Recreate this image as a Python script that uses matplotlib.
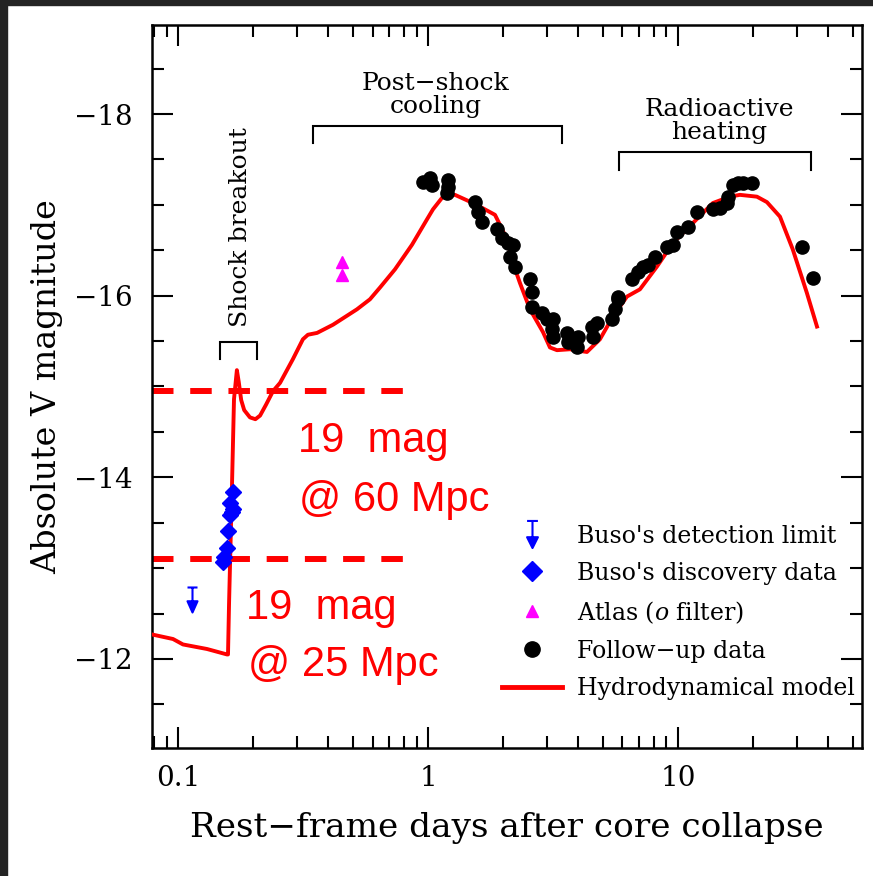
import matplotlib
matplotlib.use("Agg")
import matplotlib.pyplot as plt
from matplotlib.path import Path
from matplotlib.lines import Line2D
from matplotlib.patches import Rectangle
from matplotlib.ticker import FixedLocator, FixedFormatter, MultipleLocator, NullFormatter

plt.rcParams['font.family'] = ['DejaVu Serif']
plt.rcParams['mathtext.fontset'] = 'dejavuserif'

# --- data (days after collapse, absolute V mag) ---
model_t = [0.0787, 0.0955, 0.1047, 0.1306, 0.157, 0.1585, 0.160, 0.1644, 0.1675,
           0.172, 0.175, 0.179, 0.184, 0.194, 0.204, 0.213, 0.225, 0.240, 0.256,
           0.288, 0.316, 0.331, 0.36, 0.417, 0.52, 0.586, 0.643, 0.738, 0.863,
           0.991, 1.047, 1.148, 1.282, 1.432, 1.614, 1.854, 1.941, 2.07, 2.188,
           2.333, 2.559, 2.884, 3.076, 3.281, 3.698, 4.325, 4.875, 5.495, 6.252,
           7.047, 8.241, 9.55, 11.48, 13.8, 16.14, 17.7, 20.7, 22.7, 25.6, 28.8,
           32.8, 36.0]
model_mag = [-12.27, -12.22, -12.16, -12.11, -12.05, -12.05, -12.6, -13.9, -14.86,
             -15.18, -15.05, -14.85, -14.74, -14.66, -14.64, -14.68, -14.80, -14.95,
             -15.04, -15.30, -15.52, -15.57, -15.59, -15.68, -15.85, -15.96, -16.09,
             -16.29, -16.56, -16.84, -16.95, -17.09, -17.11, -17.05, -16.98, -16.89,
             -16.78, -16.62, -16.36, -16.14, -15.85, -15.60, -15.43, -15.40, -15.41,
             -15.38, -15.52, -15.77, -15.99, -16.07, -16.32, -16.58, -16.80, -17.02,
             -17.09, -17.11, -17.09, -17.03, -16.87, -16.51, -16.03, -15.66]

follow_t = [0.955, 1.019, 1.038, 1.202, 1.202, 1.191, 1.542, 1.585, 1.644, 1.888,
            1.977, 2.089, 2.188, 2.128, 2.228, 2.559, 2.606, 2.606, 2.858, 2.992,
            3.162, 3.133, 3.162, 3.597, 3.631, 3.981, 3.945, 4.529, 4.571, 4.742,
            5.445, 5.598, 5.754, 5.754, 6.546, 6.918, 7.244, 7.586, 8.091, 9.036,
            9.55, 9.908, 10.96, 11.91, 13.80, 14.72, 15.70, 15.85, 16.60, 17.38,
            18.20, 19.77, 31.33, 34.67]
follow_mag = [-17.25, -17.30, -17.22, -17.27, -17.20, -17.13, -17.03, -16.92, -16.81,
              -16.73, -16.64, -16.58, -16.56, -16.43, -16.32, -16.18, -16.04, -15.88,
              -15.81, -15.74, -15.74, -15.63, -15.54, -15.59, -15.49, -15.54, -15.44,
              -15.66, -15.55, -15.70, -15.74, -15.85, -15.96, -15.99, -16.18, -16.26,
              -16.32, -16.34, -16.43, -16.54, -16.56, -16.70, -16.76, -16.92, -16.95,
              -16.97, -17.02, -17.09, -17.22, -17.24, -17.24, -17.24, -16.54, -16.20]

buso_t = [0.166, 0.162, 0.1655, 0.162, 0.164, 0.158, 0.157, 0.153, 0.152]
buso_mag = [-13.84, -13.72, -13.65, -13.58, -13.62, -13.41, -13.22, -13.12, -13.07]

atlas_t = [0.453, 0.452]
atlas_mag = [-16.37, -16.23]

limit_t = [0.1137]
limit_mag = [-12.79]

limit_60 = -14.95   # 19 mag @ 60 Mpc
limit_25 = -13.10   # 19 mag @ 25 Mpc
dash_end = 0.84

brackets = {
    'shock': (0.147, 0.207, -15.49, -15.30),
    'cooling': (0.347, 3.436, -17.87, -17.68),
    'heating': (5.81, 34.0, -17.58, -17.38),
}

RED = '#ff0000'
BLUE = '#0000ff'
MAGENTA = '#ff00ff'

# upper-limit glyph: bar at the data value, arrow pointing to fainter mags
lim_path = Path([(-0.2, 0), (0.2, 0), (0, 0), (0, -0.55),
                 (-0.2, -0.55), (0.2, -0.55), (0, -1), (-0.2, -0.55)],
                [Path.MOVETO, Path.LINETO, Path.MOVETO, Path.LINETO,
                 Path.MOVETO, Path.LINETO, Path.LINETO, Path.CLOSEPOLY])
lim_path_leg = Path([(-0.4, 1), (0.4, 1), (0, 1), (0, -0.2),
                     (-0.4, -0.2), (0.4, -0.2), (0, -1), (-0.4, -0.2)],
                    lim_path.codes)

fig = plt.figure(figsize=(8.73, 8.76), dpi=100)
ax = fig.add_axes([152 / 873, 1 - 748 / 876, 710 / 873, 723 / 876])

ax.set_xscale('log')
ax.set_xlim(0.0787, 54.5)
ax.set_ylim(-11.02, -18.98)

# reference lines for 19 mag at two distances
ax.plot([0.0787, dash_end], [limit_60, limit_60], color=RED, lw=4.3,
        dashes=(3.6, 2.8), dash_capstyle='butt', zorder=2)
ax.plot([0.0787, dash_end], [limit_25, limit_25], color=RED, lw=4.3,
        dashes=(3.6, 2.8), dash_capstyle='butt', zorder=2)

ax.plot(model_t, model_mag, color=RED, lw=2.8, zorder=3)
ax.plot(follow_t, follow_mag, 'o', color='black', ms=9.5, zorder=4)
ax.plot(buso_t, buso_mag, 'D', color=BLUE, ms=8.5, zorder=5)
ax.plot(atlas_t, atlas_mag, '^', color=MAGENTA, ms=8, zorder=5)
ax.plot(limit_t, limit_mag, ls='none', marker=lim_path, ms=36, color=BLUE,
        mfc=BLUE, mec=BLUE, mew=1.5, zorder=5)

# phase brackets
for x0, x1, ytop, yleg in brackets.values():
    ax.plot([x0, x0, x1, x1], [yleg, ytop, ytop, yleg], color='black', lw=1.5,
            solid_joinstyle='miter', zorder=3)

ax.text(0.1786, -16.75, 'Shock breakout', rotation=90, ha='center', va='center',
        fontsize=18)
ax.text(1.076, -18.21, 'Post\u2212shock\ncooling', ha='center', va='center',
        fontsize=18, linespacing=1.0)
ax.text(14.59, -17.92, 'Radioactive\nheating', ha='center', va='center',
        fontsize=18, linespacing=1.0)

red_kw = dict(color=RED, fontsize=30, family='Liberation Sans', ha='left', va='baseline')
ax.text(0.302, -14.275, '19  mag', **red_kw)
ax.text(0.305, -13.63, '@ 60 Mpc', **red_kw)
ax.text(0.187, -12.44, '19  mag', **red_kw)
ax.text(0.190, -11.81, '@ 25 Mpc', **red_kw)

# axes styling
ax.xaxis.set_major_locator(FixedLocator([0.1, 1, 10]))
ax.xaxis.set_major_formatter(FixedFormatter(['0.1', '1', '10']))
minor_x = [0.08, 0.09] + [k * 0.1 for k in range(2, 10)] + list(range(2, 10)) + [20, 30, 40, 50]
ax.xaxis.set_minor_locator(FixedLocator(minor_x))
ax.xaxis.set_minor_formatter(NullFormatter())
ax.yaxis.set_major_locator(MultipleLocator(2))
ax.yaxis.set_minor_locator(MultipleLocator(0.5))

ax.tick_params(which='both', direction='in', top=True, right=True, width=1.5,
               labelsize=20)
ax.tick_params(which='major', length=15)
ax.tick_params(which='minor', length=8.5)
ax.tick_params(axis='x', pad=12)
ax.tick_params(axis='y', pad=14)
for sp in ax.spines.values():
    sp.set_linewidth(1.8)

ax.set_xlabel('Rest\u2212frame days after core collapse', fontsize=24.7, labelpad=15)
ax.set_ylabel('Absolute V magnitude', fontsize=24, labelpad=8)

handles = [
    Line2D([], [], ls='none', marker=lim_path_leg, ms=19.5, color=BLUE, mew=1.5),
    Line2D([], [], ls='none', marker='D', ms=10, color=BLUE),
    Line2D([], [], ls='none', marker='^', ms=9, color=MAGENTA),
    Line2D([], [], ls='none', marker='o', ms=11, color='black'),
    Line2D([], [], color=RED, lw=3.5),
]
labels = ["Buso's detection limit", "Buso's discovery data",
          "Atlas ($\\mathit{o}$ filter)", "Follow\u2212up data", "Hydrodynamical model"]
ax.legend(handles, labels, loc='upper left', bbox_to_anchor=(0.493, 0.309),
          frameon=False, fontsize=17, handlelength=2.54, handletextpad=0.64,
          labelspacing=0.6, borderpad=0, borderaxespad=0)

# dark screenshot border on top and left
fig.patches.append(Rectangle((0, 1 - 5 / 876), 1, 5 / 876, transform=fig.transFigure,
                             color='#242424', zorder=10))
fig.patches.append(Rectangle((0, 0), 7 / 873, 1, transform=fig.transFigure,
                             color='#242424', zorder=10))

fig.savefig('out.png', dpi=100)
